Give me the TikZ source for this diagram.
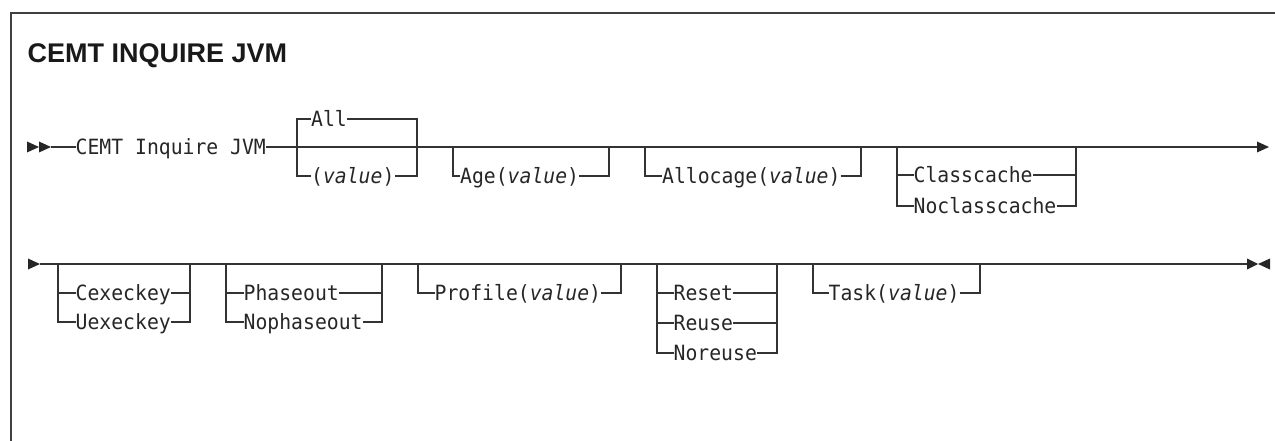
\documentclass[tikz,border=0pt]{standalone}
\usepackage{fontspec}
\newfontfamily\synfont{DejaVu Sans Mono}[ItalicFont={* Oblique},FakeStretch=0.94]
\newfontfamily\headfont{Liberation Sans}
\begin{document}
\begin{tikzpicture}[x=1pt,y=-1pt,
  rail/.style={line width=1.2pt,draw=black!80},
  frameline/.style={line width=1.3pt,draw=black!75},
  syn/.style={font=\synfont\fontsize{21}{24}\selectfont,inner xsep=0pt,inner ysep=0pt,
     text height=15.3pt,text depth=0pt,anchor=west,text=black!85},
  tipfill/.style={fill=black!85}]
\useasboundingbox (0,0) rectangle (1275,441);
% frame
\draw[frameline] (11,441) -- (11,13) -- (1275,13);
% title
\node[font=\headfont\bfseries\fontsize{27}{30}\selectfont,anchor=base west,inner sep=0pt,text=black!90] (title) at (27.5,63) {CEMT INQUIRE JVM};

% ---------------- row 1 ----------------
\coordinate (s1) at (51,147);
\fill[tipfill] (27,141.5) -- (39,147) -- (27,152.5) -- cycle;
\fill[tipfill] (39,141.5) -- (51,147) -- (39,152.5) -- cycle;
\node[syn] (cmd) at (75.5,147) {CEMT Inquire JVM};
\coordinate (e1) at (1257,147);
\fill[tipfill] (1257,141.5) -- (1269,147) -- (1257,152.5) -- cycle;
\draw[rail] (s1) -- (cmd.west);
\draw[rail] (cmd.east) -- (e1);

% All / (value)
\coordinate (g1L) at (297,147);
\coordinate (g1R) at (417,147);
\node[syn] (all) at (311,119) {All};
\node[syn] (val) at (311,176) {(\textit{value})};
\draw[rail] (all.west) -| (g1L) |- (val.west);
\draw[rail] (all.east) -| (g1R) |- (val.east);

% Age
\coordinate (g2L) at (453,147);
\coordinate (g2R) at (609,147);
\node[syn] (age) at (460,176) {Age(\textit{value})};
\draw[rail] (g2L) |- (age.west);
\draw[rail] (age.east) -| (g2R);

% Allocage
\coordinate (g3L) at (645,147);
\coordinate (g3R) at (861,147);
\node[syn] (alloc) at (662,176) {Allocage(\textit{value})};
\draw[rail] (g3L) |- (alloc.west);
\draw[rail] (alloc.east) -| (g3R);

% Classcache
\coordinate (g4L) at (897,147);
\coordinate (g4R) at (1076,147);
\node[syn] (cc) at (913.5,175) {Classcache};
\node[syn] (ncc) at (913.5,206) {Noclasscache};
\draw[rail] (g4L) |- (cc.west);
\draw[rail] (g4L) |- (ncc.west);
\draw[rail] (cc.east) -| (g4R);
\draw[rail] (ncc.east) -| (g4R);

% ---------------- row 2 ----------------
\coordinate (s2) at (40,264);
\fill[tipfill] (28,258.5) -- (40,264) -- (28,269.5) -- cycle;
\coordinate (e2) at (1247,264);
\fill[tipfill] (1247,258.5) -- (1258,264) -- (1247,269.5) -- cycle;
\fill[tipfill] (1270,258.5) -- (1258,264) -- (1270,269.5) -- cycle;
\draw[rail] (s2) -- (e2);

% Cexeckey
\coordinate (h1L) at (58,264);
\coordinate (h1R) at (190,264);
\node[syn] (cex) at (75.5,293) {Cexeckey};
\node[syn] (uex) at (75.5,322) {Uexeckey};
\draw[rail] (h1L) |- (cex.west);
\draw[rail] (h1L) |- (uex.west);
\draw[rail] (cex.east) -| (h1R);
\draw[rail] (uex.east) -| (h1R);

% Phaseout
\coordinate (h2L) at (226,264);
\coordinate (h2R) at (382,264);
\node[syn] (pha) at (243.5,293) {Phaseout};
\node[syn] (npha) at (243.5,322) {Nophaseout};
\draw[rail] (h2L) |- (pha.west);
\draw[rail] (h2L) |- (npha.west);
\draw[rail] (pha.east) -| (h2R);
\draw[rail] (npha.east) -| (h2R);

% Profile
\coordinate (h3L) at (418,264);
\coordinate (h3R) at (621,264);
\node[syn] (prof) at (434.5,293) {Profile(\textit{value})};
\draw[rail] (h3L) |- (prof.west);
\draw[rail] (prof.east) -| (h3R);

% Reset / Reuse / Noreuse
\coordinate (h4L) at (657,264);
\coordinate (h4R) at (777,264);
\node[syn] (rst) at (673.5,293) {Reset};
\node[syn] (reu) at (673.5,323) {Reuse};
\node[syn] (nreu) at (673.5,353) {Noreuse};
\draw[rail] (h4L) |- (rst.west);
\draw[rail] (h4L) |- (reu.west);
\draw[rail] (h4L) |- (nreu.west);
\draw[rail] (rst.east) -| (h4R);
\draw[rail] (reu.east) -| (h4R);
\draw[rail] (nreu.east) -| (h4R);

% Task
\coordinate (h5L) at (813,264);
\coordinate (h5R) at (980,264);
\node[syn] (task) at (828.5,293) {Task(\textit{value})};
\draw[rail] (h5L) |- (task.west);
\draw[rail] (task.east) -| (h5R);
\end{tikzpicture}
\end{document}
